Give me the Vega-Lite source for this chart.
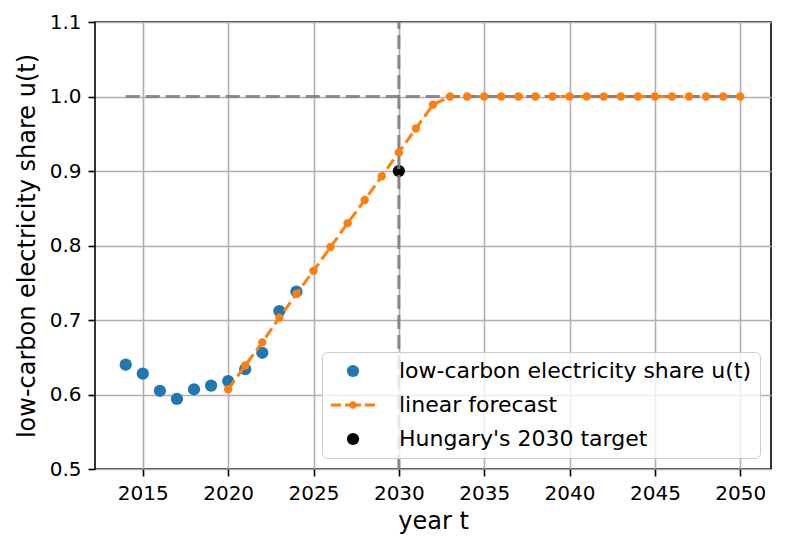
{
  "$schema": "https://vega.github.io/schema/vega-lite/v6.json",
  "width": 676,
  "height": 447,
  "autosize": "none",
  "padding": {"left": 95, "top": 22, "right": 14, "bottom": 81},
  "config": {
    "font": "DejaVu Sans",
    "view": {"stroke": "black", "strokeWidth": 1.6},
    "axis": {
      "grid": true,
      "gridColor": "#b0b0b0",
      "gridWidth": 1.6,
      "domain": false,
      "tickColor": "black",
      "tickWidth": 1.6,
      "tickSize": 7,
      "labelFontSize": 20,
      "labelColor": "black",
      "labelPadding": 7,
      "titleFontSize": 24,
      "titleFontWeight": "normal",
      "titleColor": "black"
    },
    "legend": {
      "orient": "bottom-right",
      "offset": 11,
      "padding": 8,
      "fillColor": "rgba(255,255,255,0.8)",
      "strokeColor": "#cccccc",
      "cornerRadius": 5,
      "labelFontSize": 22,
      "labelColor": "black",
      "labelLimit": 0,
      "symbolSize": 150,
      "symbolStrokeWidth": 0,
      "symbolOffset": 12,
      "labelOffset": 35,
      "rowPadding": 12
    }
  },
  "datasets": {
    "obs": [
      {"year": 2014, "u": 0.640, "series": "low-carbon electricity share u(t)"},
      {"year": 2015, "u": 0.628, "series": "low-carbon electricity share u(t)"},
      {"year": 2016, "u": 0.605, "series": "low-carbon electricity share u(t)"},
      {"year": 2017, "u": 0.594, "series": "low-carbon electricity share u(t)"},
      {"year": 2018, "u": 0.607, "series": "low-carbon electricity share u(t)"},
      {"year": 2019, "u": 0.612, "series": "low-carbon electricity share u(t)"},
      {"year": 2020, "u": 0.618, "series": "low-carbon electricity share u(t)"},
      {"year": 2021, "u": 0.634, "series": "low-carbon electricity share u(t)"},
      {"year": 2022, "u": 0.656, "series": "low-carbon electricity share u(t)"},
      {"year": 2023, "u": 0.712, "series": "low-carbon electricity share u(t)"},
      {"year": 2024, "u": 0.738, "series": "low-carbon electricity share u(t)"}
    ],
    "forecast": [
      {"year": 2020, "u": 0.607},
      {"year": 2021, "u": 0.639},
      {"year": 2022, "u": 0.670},
      {"year": 2023, "u": 0.703},
      {"year": 2024, "u": 0.735},
      {"year": 2025, "u": 0.766},
      {"year": 2026, "u": 0.798},
      {"year": 2027, "u": 0.830},
      {"year": 2028, "u": 0.861},
      {"year": 2029, "u": 0.893},
      {"year": 2030, "u": 0.925},
      {"year": 2031, "u": 0.957},
      {"year": 2032, "u": 0.989},
      {"year": 2033, "u": 1.0},
      {"year": 2034, "u": 1.0},
      {"year": 2035, "u": 1.0},
      {"year": 2036, "u": 1.0},
      {"year": 2037, "u": 1.0},
      {"year": 2038, "u": 1.0},
      {"year": 2039, "u": 1.0},
      {"year": 2040, "u": 1.0},
      {"year": 2041, "u": 1.0},
      {"year": 2042, "u": 1.0},
      {"year": 2043, "u": 1.0},
      {"year": 2044, "u": 1.0},
      {"year": 2045, "u": 1.0},
      {"year": 2046, "u": 1.0},
      {"year": 2047, "u": 1.0},
      {"year": 2048, "u": 1.0},
      {"year": 2049, "u": 1.0},
      {"year": 2050, "u": 1.0}
    ],
    "target": [
      {"year": 2030, "u": 0.9, "series": "Hungary's 2030 target"}
    ],
    "hline": [
      {"year": 2014, "year2": 2050, "u": 1.0}
    ],
    "vline": [
      {"year": 2030, "u": 0.5, "u2": 1.1}
    ]
  },
  "encoding": {
    "x": {
      "field": "year",
      "type": "quantitative",
      "title": "year t",
      "scale": {"domain": [2012.2, 2051.8], "nice": false, "zero": false},
      "axis": {"values": [2015, 2020, 2025, 2030, 2035, 2040, 2045, 2050], "format": "d", "titlePadding": 6}
    },
    "y": {
      "field": "u",
      "type": "quantitative",
      "title": "low-carbon electricity share u(t)",
      "scale": {"domain": [0.5, 1.1], "nice": false, "zero": false},
      "axis": {"values": [0.5, 0.6, 0.7, 0.8, 0.9, 1.0, 1.1], "format": ".1f", "titlePadding": 10}
    }
  },
  "layer": [
    {
      "data": {"name": "obs"},
      "mark": {"type": "point", "filled": true, "size": 150, "opacity": 1},
      "encoding": {
        "color": {
          "field": "series",
          "type": "nominal",
          "scale": {
            "domain": ["low-carbon electricity share u(t)", "linear forecast", "Hungary's 2030 target"],
            "range": ["#1f77b4", "#ff7f0e", "black"]
          },
          "legend": {"title": null}
        },
        "shape": {
          "field": "series",
          "type": "nominal",
          "scale": {
            "domain": ["low-carbon electricity share u(t)", "linear forecast", "Hungary's 2030 target"],
            "range": ["circle", "M-3.6,-0.245H-1.96V0.245H-3.6Z M-1.3,-0.245H1.3V0.245H-1.3Z M1.96,-0.245H3.6V0.245H1.96Z M0.6,0A0.6,0.6 0 1,1 -0.6,0A0.6,0.6 0 1,1 0.6,0Z", "circle"]
          },
          "legend": {"title": null}
        }
      }
    },
    {
      "data": {"name": "target"},
      "mark": {"type": "point", "filled": true, "size": 150, "opacity": 1},
      "encoding": {
        "color": {"field": "series", "type": "nominal"},
        "shape": {"field": "series", "type": "nominal"}
      }
    },
    {
      "data": {"name": "forecast"},
      "mark": {"type": "line", "color": "#ff7f0e", "strokeWidth": 3, "strokeDash": [11, 5]},
      "encoding": {}
    },
    {
      "data": {"name": "hline"},
      "mark": {"type": "rule", "color": "#808080", "opacity": 0.9, "strokeWidth": 3, "strokeDash": [14, 6]},
      "encoding": {
        "x2": {"field": "year2"}
      }
    },
    {
      "data": {"name": "vline"},
      "mark": {"type": "rule", "color": "#808080", "opacity": 0.9, "strokeWidth": 3, "strokeDash": [14, 6]},
      "encoding": {
        "y2": {"field": "u2"}
      }
    },
    {
      "data": {"name": "forecast"},
      "mark": {"type": "point", "filled": true, "size": 70, "opacity": 1, "color": "#ff7f0e"},
      "encoding": {}
    }
  ]
}
